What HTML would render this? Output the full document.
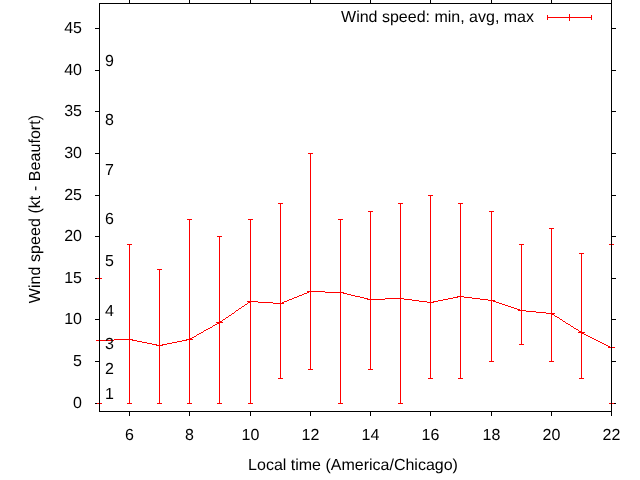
<!DOCTYPE html>
<html><head><meta charset="utf-8"><title>Wind speed</title>
<style>
html,body{margin:0;padding:0;background:#fff;}
svg{display:block;}
text{font-family:"Liberation Sans",sans-serif;font-size:16px;fill:#000;text-rendering:geometricPrecision;}
</style></head><body>
<svg width="640" height="480" viewBox="0 0 640 480">
<rect x="0" y="0" width="640" height="480" fill="#fff"/>

<g shape-rendering="crispEdges">
<rect x="95" y="403" width="4" height="1" fill="#000"/>
<rect x="612" y="403" width="4" height="1" fill="#000"/>
<rect x="95" y="361" width="4" height="1" fill="#000"/>
<rect x="612" y="361" width="4" height="1" fill="#000"/>
<rect x="95" y="319" width="4" height="1" fill="#000"/>
<rect x="612" y="319" width="4" height="1" fill="#000"/>
<rect x="95" y="278" width="4" height="1" fill="#000"/>
<rect x="612" y="278" width="4" height="1" fill="#000"/>
<rect x="95" y="236" width="4" height="1" fill="#000"/>
<rect x="612" y="236" width="4" height="1" fill="#000"/>
<rect x="95" y="195" width="4" height="1" fill="#000"/>
<rect x="612" y="195" width="4" height="1" fill="#000"/>
<rect x="95" y="153" width="4" height="1" fill="#000"/>
<rect x="612" y="153" width="4" height="1" fill="#000"/>
<rect x="95" y="111" width="4" height="1" fill="#000"/>
<rect x="612" y="111" width="4" height="1" fill="#000"/>
<rect x="95" y="70" width="4" height="1" fill="#000"/>
<rect x="612" y="70" width="4" height="1" fill="#000"/>
<rect x="95" y="28" width="4" height="1" fill="#000"/>
<rect x="612" y="28" width="4" height="1" fill="#000"/>
<rect x="129" y="0" width="1" height="3" fill="#000"/>
<rect x="129" y="412" width="1" height="4" fill="#000"/>
<rect x="189" y="0" width="1" height="3" fill="#000"/>
<rect x="189" y="412" width="1" height="4" fill="#000"/>
<rect x="250" y="0" width="1" height="3" fill="#000"/>
<rect x="250" y="412" width="1" height="4" fill="#000"/>
<rect x="310" y="0" width="1" height="3" fill="#000"/>
<rect x="310" y="412" width="1" height="4" fill="#000"/>
<rect x="370" y="0" width="1" height="3" fill="#000"/>
<rect x="370" y="412" width="1" height="4" fill="#000"/>
<rect x="430" y="0" width="1" height="3" fill="#000"/>
<rect x="430" y="412" width="1" height="4" fill="#000"/>
<rect x="491" y="0" width="1" height="3" fill="#000"/>
<rect x="491" y="412" width="1" height="4" fill="#000"/>
<rect x="551" y="0" width="1" height="3" fill="#000"/>
<rect x="551" y="412" width="1" height="4" fill="#000"/>
<rect x="611" y="0" width="1" height="3" fill="#000"/>
<rect x="611" y="412" width="1" height="4" fill="#000"/>
<rect x="99" y="278" width="1" height="126" fill="#ff0000"/>
<rect x="97" y="278" width="5" height="1" fill="#ff0000"/>
<rect x="97" y="403" width="5" height="1" fill="#ff0000"/>
<rect x="96" y="340" width="7" height="1" fill="#ff0000"/>
<rect x="99" y="337" width="1" height="7" fill="#ff0000"/>
<rect x="129" y="244" width="1" height="160" fill="#ff0000"/>
<rect x="127" y="244" width="5" height="1" fill="#ff0000"/>
<rect x="127" y="403" width="5" height="1" fill="#ff0000"/>
<rect x="126" y="339" width="7" height="1" fill="#ff0000"/>
<rect x="129" y="336" width="1" height="7" fill="#ff0000"/>
<rect x="159" y="269" width="1" height="135" fill="#ff0000"/>
<rect x="157" y="269" width="5" height="1" fill="#ff0000"/>
<rect x="157" y="403" width="5" height="1" fill="#ff0000"/>
<rect x="156" y="345" width="7" height="1" fill="#ff0000"/>
<rect x="159" y="342" width="1" height="7" fill="#ff0000"/>
<rect x="189" y="219" width="1" height="185" fill="#ff0000"/>
<rect x="187" y="219" width="5" height="1" fill="#ff0000"/>
<rect x="187" y="403" width="5" height="1" fill="#ff0000"/>
<rect x="186" y="339" width="7" height="1" fill="#ff0000"/>
<rect x="189" y="336" width="1" height="7" fill="#ff0000"/>
<rect x="219" y="236" width="1" height="168" fill="#ff0000"/>
<rect x="217" y="236" width="5" height="1" fill="#ff0000"/>
<rect x="217" y="403" width="5" height="1" fill="#ff0000"/>
<rect x="216" y="322" width="7" height="1" fill="#ff0000"/>
<rect x="219" y="319" width="1" height="7" fill="#ff0000"/>
<rect x="250" y="219" width="1" height="185" fill="#ff0000"/>
<rect x="248" y="219" width="5" height="1" fill="#ff0000"/>
<rect x="248" y="403" width="5" height="1" fill="#ff0000"/>
<rect x="247" y="301" width="7" height="1" fill="#ff0000"/>
<rect x="250" y="298" width="1" height="7" fill="#ff0000"/>
<rect x="280" y="203" width="1" height="176" fill="#ff0000"/>
<rect x="278" y="203" width="5" height="1" fill="#ff0000"/>
<rect x="278" y="378" width="5" height="1" fill="#ff0000"/>
<rect x="277" y="303" width="7" height="1" fill="#ff0000"/>
<rect x="280" y="300" width="1" height="7" fill="#ff0000"/>
<rect x="310" y="153" width="1" height="217" fill="#ff0000"/>
<rect x="308" y="153" width="5" height="1" fill="#ff0000"/>
<rect x="308" y="369" width="5" height="1" fill="#ff0000"/>
<rect x="307" y="291" width="7" height="1" fill="#ff0000"/>
<rect x="310" y="288" width="1" height="7" fill="#ff0000"/>
<rect x="340" y="219" width="1" height="185" fill="#ff0000"/>
<rect x="338" y="219" width="5" height="1" fill="#ff0000"/>
<rect x="338" y="403" width="5" height="1" fill="#ff0000"/>
<rect x="337" y="292" width="7" height="1" fill="#ff0000"/>
<rect x="340" y="289" width="1" height="7" fill="#ff0000"/>
<rect x="370" y="211" width="1" height="159" fill="#ff0000"/>
<rect x="368" y="211" width="5" height="1" fill="#ff0000"/>
<rect x="368" y="369" width="5" height="1" fill="#ff0000"/>
<rect x="367" y="299" width="7" height="1" fill="#ff0000"/>
<rect x="370" y="296" width="1" height="7" fill="#ff0000"/>
<rect x="400" y="203" width="1" height="201" fill="#ff0000"/>
<rect x="398" y="203" width="5" height="1" fill="#ff0000"/>
<rect x="398" y="403" width="5" height="1" fill="#ff0000"/>
<rect x="397" y="298" width="7" height="1" fill="#ff0000"/>
<rect x="400" y="295" width="1" height="7" fill="#ff0000"/>
<rect x="430" y="195" width="1" height="184" fill="#ff0000"/>
<rect x="428" y="195" width="5" height="1" fill="#ff0000"/>
<rect x="428" y="378" width="5" height="1" fill="#ff0000"/>
<rect x="427" y="302" width="7" height="1" fill="#ff0000"/>
<rect x="430" y="299" width="1" height="7" fill="#ff0000"/>
<rect x="460" y="203" width="1" height="176" fill="#ff0000"/>
<rect x="458" y="203" width="5" height="1" fill="#ff0000"/>
<rect x="458" y="378" width="5" height="1" fill="#ff0000"/>
<rect x="457" y="296" width="7" height="1" fill="#ff0000"/>
<rect x="460" y="293" width="1" height="7" fill="#ff0000"/>
<rect x="491" y="211" width="1" height="151" fill="#ff0000"/>
<rect x="489" y="211" width="5" height="1" fill="#ff0000"/>
<rect x="489" y="361" width="5" height="1" fill="#ff0000"/>
<rect x="488" y="300" width="7" height="1" fill="#ff0000"/>
<rect x="491" y="297" width="1" height="7" fill="#ff0000"/>
<rect x="521" y="244" width="1" height="101" fill="#ff0000"/>
<rect x="519" y="244" width="5" height="1" fill="#ff0000"/>
<rect x="519" y="344" width="5" height="1" fill="#ff0000"/>
<rect x="518" y="310" width="7" height="1" fill="#ff0000"/>
<rect x="521" y="307" width="1" height="7" fill="#ff0000"/>
<rect x="551" y="228" width="1" height="134" fill="#ff0000"/>
<rect x="549" y="228" width="5" height="1" fill="#ff0000"/>
<rect x="549" y="361" width="5" height="1" fill="#ff0000"/>
<rect x="548" y="313" width="7" height="1" fill="#ff0000"/>
<rect x="551" y="310" width="1" height="7" fill="#ff0000"/>
<rect x="581" y="253" width="1" height="126" fill="#ff0000"/>
<rect x="579" y="253" width="5" height="1" fill="#ff0000"/>
<rect x="579" y="378" width="5" height="1" fill="#ff0000"/>
<rect x="578" y="332" width="7" height="1" fill="#ff0000"/>
<rect x="581" y="329" width="1" height="7" fill="#ff0000"/>
<rect x="611" y="244" width="1" height="160" fill="#ff0000"/>
<rect x="609" y="244" width="5" height="1" fill="#ff0000"/>
<rect x="609" y="403" width="5" height="1" fill="#ff0000"/>
<rect x="608" y="347" width="7" height="1" fill="#ff0000"/>
<rect x="611" y="344" width="1" height="7" fill="#ff0000"/>
<rect x="309" y="291" width="16" height="1" fill="#ff0000"/>
<rect x="307" y="292" width="2" height="1" fill="#ff0000"/>
<rect x="325" y="292" width="18" height="1" fill="#ff0000"/>
<rect x="304" y="293" width="3" height="1" fill="#ff0000"/>
<rect x="343" y="293" width="4" height="1" fill="#ff0000"/>
<rect x="302" y="294" width="2" height="1" fill="#ff0000"/>
<rect x="347" y="294" width="4" height="1" fill="#ff0000"/>
<rect x="299" y="295" width="3" height="1" fill="#ff0000"/>
<rect x="351" y="295" width="4" height="1" fill="#ff0000"/>
<rect x="297" y="296" width="2" height="1" fill="#ff0000"/>
<rect x="355" y="296" width="5" height="1" fill="#ff0000"/>
<rect x="458" y="296" width="6" height="1" fill="#ff0000"/>
<rect x="294" y="297" width="3" height="1" fill="#ff0000"/>
<rect x="360" y="297" width="4" height="1" fill="#ff0000"/>
<rect x="453" y="297" width="5" height="1" fill="#ff0000"/>
<rect x="464" y="297" width="8" height="1" fill="#ff0000"/>
<rect x="292" y="298" width="2" height="1" fill="#ff0000"/>
<rect x="364" y="298" width="4" height="1" fill="#ff0000"/>
<rect x="385" y="298" width="19" height="1" fill="#ff0000"/>
<rect x="448" y="298" width="5" height="1" fill="#ff0000"/>
<rect x="472" y="298" width="8" height="1" fill="#ff0000"/>
<rect x="289" y="299" width="3" height="1" fill="#ff0000"/>
<rect x="368" y="299" width="17" height="1" fill="#ff0000"/>
<rect x="404" y="299" width="8" height="1" fill="#ff0000"/>
<rect x="443" y="299" width="5" height="1" fill="#ff0000"/>
<rect x="480" y="299" width="8" height="1" fill="#ff0000"/>
<rect x="287" y="300" width="2" height="1" fill="#ff0000"/>
<rect x="412" y="300" width="7" height="1" fill="#ff0000"/>
<rect x="438" y="300" width="5" height="1" fill="#ff0000"/>
<rect x="488" y="300" width="5" height="1" fill="#ff0000"/>
<rect x="250" y="301" width="8" height="1" fill="#ff0000"/>
<rect x="284" y="301" width="3" height="1" fill="#ff0000"/>
<rect x="419" y="301" width="8" height="1" fill="#ff0000"/>
<rect x="433" y="301" width="5" height="1" fill="#ff0000"/>
<rect x="493" y="301" width="3" height="1" fill="#ff0000"/>
<rect x="248" y="302" width="2" height="1" fill="#ff0000"/>
<rect x="258" y="302" width="15" height="1" fill="#ff0000"/>
<rect x="282" y="302" width="2" height="1" fill="#ff0000"/>
<rect x="427" y="302" width="6" height="1" fill="#ff0000"/>
<rect x="496" y="302" width="3" height="1" fill="#ff0000"/>
<rect x="247" y="303" width="1" height="1" fill="#ff0000"/>
<rect x="273" y="303" width="9" height="1" fill="#ff0000"/>
<rect x="499" y="303" width="3" height="1" fill="#ff0000"/>
<rect x="245" y="304" width="2" height="1" fill="#ff0000"/>
<rect x="502" y="304" width="3" height="1" fill="#ff0000"/>
<rect x="244" y="305" width="1" height="1" fill="#ff0000"/>
<rect x="505" y="305" width="3" height="1" fill="#ff0000"/>
<rect x="242" y="306" width="2" height="1" fill="#ff0000"/>
<rect x="508" y="306" width="3" height="1" fill="#ff0000"/>
<rect x="241" y="307" width="1" height="1" fill="#ff0000"/>
<rect x="511" y="307" width="3" height="1" fill="#ff0000"/>
<rect x="239" y="308" width="2" height="1" fill="#ff0000"/>
<rect x="514" y="308" width="3" height="1" fill="#ff0000"/>
<rect x="238" y="309" width="1" height="1" fill="#ff0000"/>
<rect x="517" y="309" width="3" height="1" fill="#ff0000"/>
<rect x="236" y="310" width="2" height="1" fill="#ff0000"/>
<rect x="520" y="310" width="6" height="1" fill="#ff0000"/>
<rect x="235" y="311" width="1" height="1" fill="#ff0000"/>
<rect x="526" y="311" width="10" height="1" fill="#ff0000"/>
<rect x="234" y="312" width="1" height="1" fill="#ff0000"/>
<rect x="536" y="312" width="10" height="1" fill="#ff0000"/>
<rect x="232" y="313" width="2" height="1" fill="#ff0000"/>
<rect x="546" y="313" width="6" height="1" fill="#ff0000"/>
<rect x="231" y="314" width="1" height="1" fill="#ff0000"/>
<rect x="552" y="314" width="2" height="1" fill="#ff0000"/>
<rect x="229" y="315" width="2" height="1" fill="#ff0000"/>
<rect x="554" y="315" width="1" height="1" fill="#ff0000"/>
<rect x="228" y="316" width="1" height="1" fill="#ff0000"/>
<rect x="555" y="316" width="2" height="1" fill="#ff0000"/>
<rect x="226" y="317" width="2" height="1" fill="#ff0000"/>
<rect x="557" y="317" width="2" height="1" fill="#ff0000"/>
<rect x="225" y="318" width="1" height="1" fill="#ff0000"/>
<rect x="559" y="318" width="1" height="1" fill="#ff0000"/>
<rect x="223" y="319" width="2" height="1" fill="#ff0000"/>
<rect x="560" y="319" width="2" height="1" fill="#ff0000"/>
<rect x="222" y="320" width="1" height="1" fill="#ff0000"/>
<rect x="562" y="320" width="1" height="1" fill="#ff0000"/>
<rect x="220" y="321" width="2" height="1" fill="#ff0000"/>
<rect x="563" y="321" width="2" height="1" fill="#ff0000"/>
<rect x="219" y="322" width="1" height="1" fill="#ff0000"/>
<rect x="565" y="322" width="1" height="1" fill="#ff0000"/>
<rect x="217" y="323" width="2" height="1" fill="#ff0000"/>
<rect x="566" y="323" width="2" height="1" fill="#ff0000"/>
<rect x="215" y="324" width="2" height="1" fill="#ff0000"/>
<rect x="568" y="324" width="2" height="1" fill="#ff0000"/>
<rect x="213" y="325" width="2" height="1" fill="#ff0000"/>
<rect x="570" y="325" width="1" height="1" fill="#ff0000"/>
<rect x="212" y="326" width="1" height="1" fill="#ff0000"/>
<rect x="571" y="326" width="2" height="1" fill="#ff0000"/>
<rect x="210" y="327" width="2" height="1" fill="#ff0000"/>
<rect x="573" y="327" width="1" height="1" fill="#ff0000"/>
<rect x="208" y="328" width="2" height="1" fill="#ff0000"/>
<rect x="574" y="328" width="2" height="1" fill="#ff0000"/>
<rect x="206" y="329" width="2" height="1" fill="#ff0000"/>
<rect x="576" y="329" width="2" height="1" fill="#ff0000"/>
<rect x="204" y="330" width="2" height="1" fill="#ff0000"/>
<rect x="578" y="330" width="1" height="1" fill="#ff0000"/>
<rect x="203" y="331" width="1" height="1" fill="#ff0000"/>
<rect x="579" y="331" width="2" height="1" fill="#ff0000"/>
<rect x="201" y="332" width="2" height="1" fill="#ff0000"/>
<rect x="581" y="332" width="1" height="1" fill="#ff0000"/>
<rect x="199" y="333" width="2" height="1" fill="#ff0000"/>
<rect x="582" y="333" width="2" height="1" fill="#ff0000"/>
<rect x="197" y="334" width="2" height="1" fill="#ff0000"/>
<rect x="584" y="334" width="2" height="1" fill="#ff0000"/>
<rect x="196" y="335" width="1" height="1" fill="#ff0000"/>
<rect x="586" y="335" width="2" height="1" fill="#ff0000"/>
<rect x="194" y="336" width="2" height="1" fill="#ff0000"/>
<rect x="588" y="336" width="2" height="1" fill="#ff0000"/>
<rect x="192" y="337" width="2" height="1" fill="#ff0000"/>
<rect x="590" y="337" width="2" height="1" fill="#ff0000"/>
<rect x="190" y="338" width="2" height="1" fill="#ff0000"/>
<rect x="592" y="338" width="2" height="1" fill="#ff0000"/>
<rect x="114" y="339" width="18" height="1" fill="#ff0000"/>
<rect x="187" y="339" width="3" height="1" fill="#ff0000"/>
<rect x="594" y="339" width="2" height="1" fill="#ff0000"/>
<rect x="99" y="340" width="15" height="1" fill="#ff0000"/>
<rect x="132" y="340" width="5" height="1" fill="#ff0000"/>
<rect x="182" y="340" width="5" height="1" fill="#ff0000"/>
<rect x="596" y="340" width="2" height="1" fill="#ff0000"/>
<rect x="137" y="341" width="5" height="1" fill="#ff0000"/>
<rect x="177" y="341" width="5" height="1" fill="#ff0000"/>
<rect x="598" y="341" width="2" height="1" fill="#ff0000"/>
<rect x="142" y="342" width="5" height="1" fill="#ff0000"/>
<rect x="172" y="342" width="5" height="1" fill="#ff0000"/>
<rect x="600" y="342" width="2" height="1" fill="#ff0000"/>
<rect x="147" y="343" width="5" height="1" fill="#ff0000"/>
<rect x="167" y="343" width="5" height="1" fill="#ff0000"/>
<rect x="602" y="343" width="2" height="1" fill="#ff0000"/>
<rect x="152" y="344" width="5" height="1" fill="#ff0000"/>
<rect x="162" y="344" width="5" height="1" fill="#ff0000"/>
<rect x="604" y="344" width="2" height="1" fill="#ff0000"/>
<rect x="157" y="345" width="5" height="1" fill="#ff0000"/>
<rect x="606" y="345" width="2" height="1" fill="#ff0000"/>
<rect x="608" y="346" width="2" height="1" fill="#ff0000"/>
<rect x="610" y="347" width="2" height="1" fill="#ff0000"/>
<rect x="547" y="17" width="45" height="1" fill="#ff0000"/>
<rect x="547" y="15" width="1" height="5" fill="#ff0000"/>
<rect x="591" y="15" width="1" height="5" fill="#ff0000"/>
<rect x="569" y="14" width="1" height="7" fill="#ff0000"/>
<rect x="99" y="3" width="513" height="1" fill="#000"/>
<rect x="99" y="411" width="513" height="1" fill="#000"/>
<rect x="99" y="3" width="1" height="409" fill="#000"/>
<rect x="611" y="3" width="1" height="409" fill="#000"/>
</g>
<g>
<text transform="translate(82,408)" text-anchor="end">0</text>
<text transform="translate(82,366)" text-anchor="end">5</text>
<text transform="translate(82,324)" text-anchor="end">10</text>
<text transform="translate(82,283)" text-anchor="end">15</text>
<text transform="translate(82,241)" text-anchor="end">20</text>
<text transform="translate(82,200)" text-anchor="end">25</text>
<text transform="translate(82,158)" text-anchor="end">30</text>
<text transform="translate(82,116)" text-anchor="end">35</text>
<text transform="translate(82,75)" text-anchor="end">40</text>
<text transform="translate(82,33)" text-anchor="end">45</text>
<text transform="translate(129.5,440)" text-anchor="middle">6</text>
<text transform="translate(189.5,440)" text-anchor="middle">8</text>
<text transform="translate(250.5,440)" text-anchor="middle">10</text>
<text transform="translate(310.5,440)" text-anchor="middle">12</text>
<text transform="translate(370.5,440)" text-anchor="middle">14</text>
<text transform="translate(430.5,440)" text-anchor="middle">16</text>
<text transform="translate(491.5,440)" text-anchor="middle">18</text>
<text transform="translate(551.5,440)" text-anchor="middle">20</text>
<text transform="translate(611.5,440)" text-anchor="middle">22</text>
<text transform="translate(105,399)" text-anchor="start">1</text>
<text transform="translate(105,374)" text-anchor="start">2</text>
<text transform="translate(105,349)" text-anchor="start">3</text>
<text transform="translate(105,316)" text-anchor="start">4</text>
<text transform="translate(105,266)" text-anchor="start">5</text>
<text transform="translate(105,224)" text-anchor="start">6</text>
<text transform="translate(105,175)" text-anchor="start">7</text>
<text transform="translate(105,125)" text-anchor="start">8</text>
<text transform="translate(105,66)" text-anchor="start">9</text>
<text transform="translate(353,470)" text-anchor="middle">Local time (America/Chicago)</text>
<text textLength="188.3" lengthAdjust="spacing" transform="translate(39.5,303.2) rotate(-90)" text-anchor="start">Wind speed (kt - Beaufort)</text>
<text transform="translate(534,21.5)" text-anchor="end">Wind speed: min, avg, max</text>
</g>
</svg></body></html>
